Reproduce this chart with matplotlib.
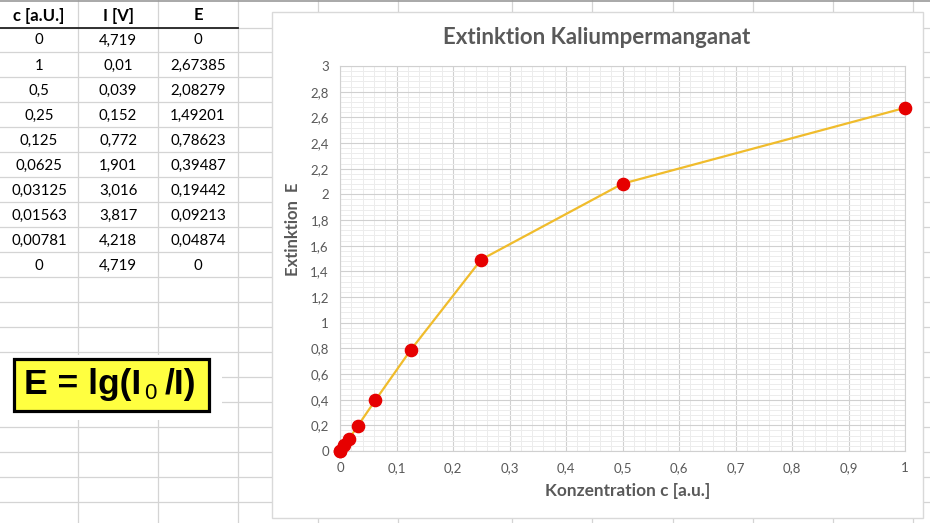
import matplotlib
matplotlib.use("Agg")
import matplotlib.pyplot as plt
from matplotlib.patches import Rectangle
from matplotlib.ticker import MultipleLocator, FuncFormatter

# ---------------- data ----------------
conc = [0, 1, 0.5, 0.25, 0.125, 0.0625, 0.03125, 0.01563, 0.00781, 0]
voltage = [4.719, 0.01, 0.039, 0.152, 0.772, 1.901, 3.016, 3.817, 4.218, 4.719]
extinction = [0, 2.67385, 2.08279, 1.49201, 0.78623, 0.39487, 0.19442, 0.09213, 0.04874, 0]
headers = ["c [a.U.]", "I [V]", "E"]
title = "Extinktion Kaliumpermanganat"
xlabel = "Konzentration c [a.u.]"
ylabel = "Extinktion  E"

W, H = 930, 523
fig = plt.figure(figsize=(W / 100, H / 100), dpi=100)
fig.patch.set_facecolor("white")

FONT = "Lato"
GRAY_TXT = "#595959"

def de(v):
    return f"{v:g}".replace(".", ",")

# ---------------- spreadsheet background ----------------
bg = fig.add_axes([0, 0, 1, 1], zorder=0)
bg.set_xlim(0, W)
bg.set_ylim(H, 0)
bg.axis("off")

grid_c = "#D4D4D4"
col_x = [78, 158, 238, 318, 398, 512, 592, 673, 753, 833, 913]
row_y = [28] + [52 + 25 * k for k in range(19)]
for x in col_x:
    bg.plot([x, x], [0, H], color=grid_c, lw=0.9, zorder=1)
for y in row_y:
    bg.plot([0, W], [y, y], color=grid_c, lw=0.9, zorder=1)
bg.plot([0, W], [1, 1], color="#9A9A9A", lw=1.2, zorder=1)
bg.plot([0, 238], [28, 28], color="#222222", lw=1.3, zorder=2)

# table text
col_cx = [39, 118, 198]
for j, h in enumerate(headers):
    bg.text(col_cx[j], 15.5, h, ha="center", va="center", fontsize=12,
            fontweight="bold", family=FONT, color="black", zorder=3)
for i in range(len(conc)):
    yc = 40.5 + 25 * i
    for j, v in enumerate([conc[i], voltage[i], extinction[i]]):
        bg.text(col_cx[j], yc, de(v), ha="center", va="center", fontsize=10.8,
                family=FONT, color="black", zorder=3)

# formula picture
bg.add_patch(Rectangle((0, 355), 222, 65, facecolor="white", edgecolor="none", zorder=4))
bg.add_patch(Rectangle((14, 359), 195, 52, facecolor="#FFFF40", edgecolor="black",
                       lw=2.3, zorder=5))
fkw = dict(fontsize=25.5, fontweight="bold", family="Liberation Sans", color="black", zorder=6)
t1 = bg.text(24, 394, "E = lg(I", ha="left", va="baseline", **fkw)
fig.canvas.draw()
r = fig.canvas.get_renderer()
bb = t1.get_window_extent(r)
inv = bg.transData.inverted()
x_end = inv.transform((bb.x1, bb.y0))[0]
t2 = bg.text(x_end + 3, 399, "0", ha="left", va="baseline",
             **{**fkw, "fontsize": 16, "fontweight": "normal"})
fig.canvas.draw()
bb2 = t2.get_window_extent(r)
x_end2 = inv.transform((bb2.x1, bb2.y0))[0]
bg.text(x_end2 + 8, 394, "/I)", ha="left", va="baseline", **fkw)

# chart area
bg.add_patch(Rectangle((272, 12), 651, 506, facecolor="white", edgecolor="#D9D9D9",
                       lw=1.0, zorder=7))

# ---------------- chart ----------------
L, R, T, B = 340, 905, 66, 451
ax = fig.add_axes([L / W, 1 - B / H, (R - L) / W, (B - T) / H], zorder=10)
ax.set_facecolor("white")
ax.set_xlim(0, 1)
ax.set_ylim(0, 3)
ax.xaxis.set_major_locator(MultipleLocator(0.1))
ax.xaxis.set_minor_locator(MultipleLocator(0.02))
ax.yaxis.set_major_locator(MultipleLocator(0.2))
ax.yaxis.set_minor_locator(MultipleLocator(0.04))
fmt = FuncFormatter(lambda v, p: de(round(v, 2)))
ax.xaxis.set_major_formatter(fmt)
ax.yaxis.set_major_formatter(fmt)
ax.grid(which="major", color="#D0D0D0", lw=0.8)
ax.grid(which="minor", color="#ECECEC", lw=0.7)
ax.set_axisbelow(True)
ax.tick_params(which="both", length=0)
ax.tick_params(axis="x", pad=8, labelsize=9.5, labelcolor=GRAY_TXT)
ax.tick_params(axis="y", pad=8, labelsize=9.5, labelcolor=GRAY_TXT)
for lab in ax.get_xticklabels() + ax.get_yticklabels():
    lab.set_family(FONT)
for s in ax.spines.values():
    s.set_color("#D0D0D0")
    s.set_linewidth(0.8)

ax.plot(conc[1:], extinction[1:], color="#F0BC2C", lw=1.6, zorder=3, clip_on=False)
ax.plot(conc, extinction, linestyle="none", marker="o", markersize=8.8,
        color="#E60000", markeredgecolor="#E60000", zorder=4, clip_on=False)

fig.text(597 / W, 1 - 44 / H, title, ha="center", va="baseline", fontsize=16,
         fontweight="bold", family=FONT, color=GRAY_TXT, zorder=20)
fig.text(628 / W, 1 - 496 / H, xlabel, ha="center", va="baseline", fontsize=12.4,
         fontweight="bold", family=FONT, color=GRAY_TXT, zorder=20)
fig.text(293 / W, 1 - 229 / H, ylabel, ha="center", va="center", rotation=90,
         fontsize=12, fontweight="bold", family=FONT, color=GRAY_TXT, zorder=20)

fig.savefig("out.png", dpi=100, facecolor="white")
